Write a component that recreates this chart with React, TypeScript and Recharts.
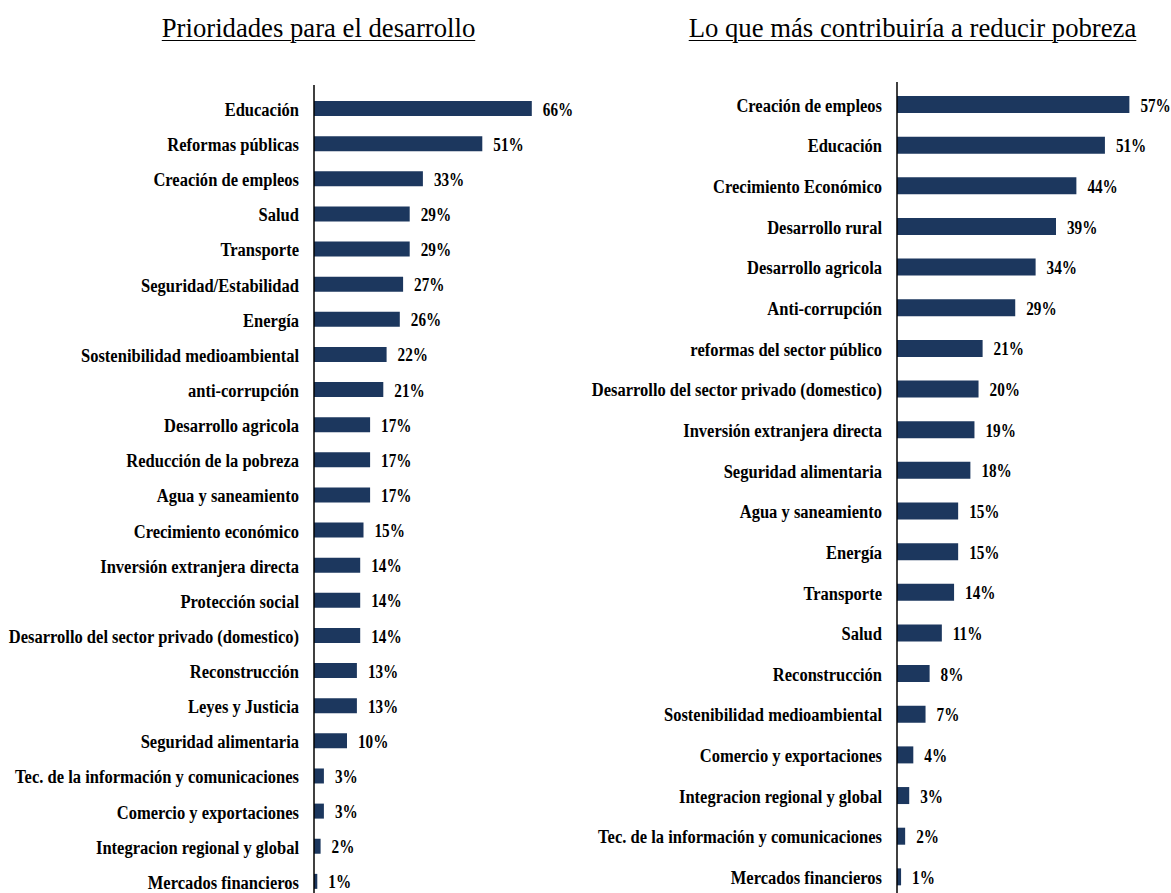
import React from 'react';
import { BarChart, Bar, XAxis, YAxis, LabelList } from 'recharts';

// Prioridades para el desarrollo
const leftCategories = [
  'Educación',
  'Reformas públicas',
  'Creación de empleos',
  'Salud',
  'Transporte',
  'Seguridad/Estabilidad',
  'Energía',
  'Sostenibilidad medioambiental',
  'anti-corrupción',
  'Desarrollo agricola',
  'Reducción de la pobreza',
  'Agua y saneamiento',
  'Crecimiento económico',
  'Inversión extranjera directa',
  'Protección social',
  'Desarrollo del sector privado (domestico)',
  'Reconstrucción',
  'Leyes y Justicia',
  'Seguridad alimentaria',
  'Tec. de la información y comunicaciones',
  'Comercio y exportaciones',
  'Integracion regional y global',
  'Mercados financieros',
];
const leftValues = [66, 51, 33, 29, 29, 27, 26, 22, 21, 17, 17, 17, 15, 14, 14, 14, 13, 13, 10, 3, 3, 2, 1];

// Lo que más contribuiría a reducir pobreza
const rightCategories = [
  'Creación de empleos',
  'Educación',
  'Crecimiento Económico',
  'Desarrollo rural',
  'Desarrollo agricola',
  'Anti-corrupción',
  'reformas del sector público',
  'Desarrollo del sector privado (domestico)',
  'Inversión extranjera directa',
  'Seguridad alimentaria',
  'Agua y saneamiento',
  'Energía',
  'Transporte',
  'Salud',
  'Reconstrucción',
  'Sostenibilidad medioambiental',
  'Comercio y exportaciones',
  'Integracion regional y global',
  'Tec. de la información y comunicaciones',
  'Mercados financieros',
];
const rightValues = [57, 51, 44, 39, 34, 29, 21, 20, 19, 18, 15, 15, 14, 11, 8, 7, 4, 3, 2, 1];

const BAR_COLOR = '#1c375e';
const FONT = '"Liberation Serif", "Times New Roman", serif';

function CategoryTick(props: any) {
  const { x, y, payload } = props;
  return (
    <text
      transform={`translate(${x - 13},${y + 1}) scale(0.87,1)`}
      textAnchor="end"
      dominantBaseline="central"
      fontFamily={FONT}
      fontWeight="bold"
      fontSize={19}
      fill="#000"
    >
      {payload.value}
    </text>
  );
}

function ValueLabel(props: any) {
  const { x, y, width, height, value } = props;
  return (
    <text
      transform={`translate(${x + width + 11},${y + height / 2 + 1}) scale(0.8,1)`}
      textAnchor="start"
      dominantBaseline="central"
      fontFamily={FONT}
      fontWeight="bold"
      fontSize={19}
      fill="#000"
    >
      {`${value}%`}
    </text>
  );
}

function Panel({
  categories,
  values,
  width,
  height,
  axisWidth,
  top,
  pad,
  max,
  barSize,
  right,
}: {
  categories: string[];
  values: number[];
  width: number;
  height: number;
  axisWidth: number;
  top: number;
  pad: number;
  max: number;
  barSize: number;
  right: number;
}) {
  const data = categories.map((name, i) => ({ name, value: values[i] }));
  return (
    <BarChart
      layout="vertical"
      width={width}
      height={height}
      data={data}
      margin={{ top, right, bottom: 0, left: 0 }}
      barCategoryGap={0}
    >
      <XAxis type="number" domain={[0, max]} hide />
      <YAxis
        type="category"
        dataKey="name"
        width={axisWidth}
        tickLine={false}
        tickSize={0}
        axisLine={{ stroke: '#000', strokeWidth: 1.5 }}
        tick={<CategoryTick />}
        interval={0}
        padding={{ top: pad, bottom: 0 }}
      />
      <Bar dataKey="value" fill={BAR_COLOR} barSize={barSize} isAnimationActive={false}>
        <LabelList dataKey="value" content={<ValueLabel />} />
      </Bar>
    </BarChart>
  );
}

export default function App() {
  const titleStyle: React.CSSProperties = {
    position: 'absolute',
    top: 12,
    fontFamily: FONT,
    fontSize: 26.7,
    lineHeight: '32px',
    textDecoration: 'underline',
    textUnderlineOffset: 3,
    textDecorationThickness: 1,
    color: '#000',
    whiteSpace: 'nowrap',
    transform: 'translateX(-50%)',
  };
  return (
    <div
      style={{
        position: 'absolute',
        left: 0,
        top: 0,
        width: 1171,
        height: 893,
        overflow: 'hidden',
        background: '#fff',
      }}
    >
      <div style={{ ...titleStyle, left: 318.5 }}>Prioridades para el desarrollo</div>
      <div style={{ ...titleStyle, left: 912.5 }}>Lo que más contribuiría a reducir pobreza</div>
      <div style={{ position: 'absolute', left: 0, top: 0 }}>
        <Panel
          categories={leftCategories}
          values={leftValues}
          width={600}
          height={899}
          axisWidth={314}
          top={85}
          pad={6}
          max={80}
          barSize={15}
          right={22}
        />
      </div>
      <div style={{ position: 'absolute', left: 590, top: 0 }}>
        <Panel
          categories={rightCategories}
          values={rightValues}
          width={581}
          height={897}
          axisWidth={307}
          top={82}
          pad={2}
          max={65}
          barSize={17}
          right={9}
        />
      </div>
    </div>
  );
}
